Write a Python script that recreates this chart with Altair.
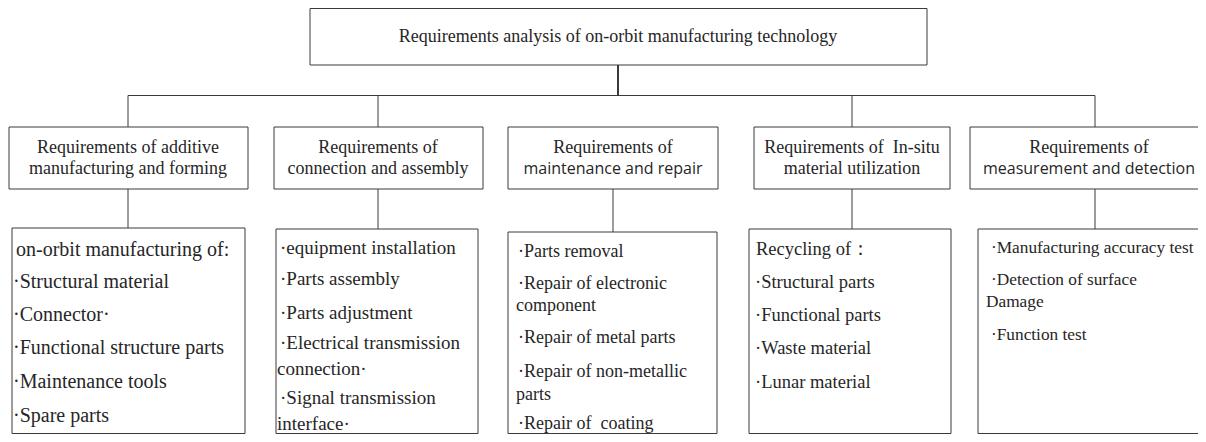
import altair as alt
import pandas as pd

# ---------------- content ----------------
ROOT = "Requirements analysis of on-orbit manufacturing technology"
BRANCH_LINE1 = ["Requirements of additive", "Requirements of", "Requirements of",
                "Requirements of\u00a0 In-situ", "Requirements of"]
BRANCH_LINE2 = ["manufacturing and forming", "connection and assembly",
                "maintenance and repair", "material utilization",
                "measurement and detection"]
SANS_LINES = ["maintenance and repair", "measurement and detection"]
ITEMS_1 = ["on-orbit manufacturing of:", "·Structural material", "·Connector·",
           "·Functional structure parts", "·Maintenance tools", "·Spare parts"]
ITEMS_2 = ["·equipment installation", "·Parts assembly", "·Parts adjustment",
           "·Electrical transmission", "connection·", "·Signal transmission", "interface·"]
ITEMS_3 = ["·Parts removal", "·Repair of electronic", "component", "·Repair of metal parts",
           "·Repair of non-metallic", "parts", "·Repair of\u00a0 coating"]
ITEMS_4 = ["Recycling of：", "·Structural parts", "·Functional parts",
           "·Waste material", "·Lunar material"]
ITEMS_5 = ["·Manufacturing accuracy test", "·Detection of surface", "Damage", "·Function test"]
ITEMS = [ITEMS_1, ITEMS_2, ITEMS_3, ITEMS_4, ITEMS_5]

# ---------------- layout (screen pixel coordinates) ----------------
W, H = 1190, 426
XMIN, XMAX, YMIN, YMAX = 8, 8 + W, 8, 8 + H

ROOT_BOX = (310, 927, 8.5, 65)
ROOT_Y = 37
TRUNK_X = 618
BRANCH_Y = 95.5
BOX_L = [9, 274, 508, 754, 970]
BOX_R = [248, 483, 718, 950, 1220]
BOX_T, BOX_B = 127, 189
CONN_X = [128, 378, 613, 852, 1095]
TITLE_X = [128, 378, 613, 852, 1089]
HAS_TOP = [True, True, False, True, True]
TITLE_Y = [148, 169]
LOW_L = [12, 276, 508, 749, 978]
LOW_R = [245, 478, 717, 951, 1230]
LOW_T = [228, 229, 232, 229, 229]
LOW_B = 433.5
DOT_X = [13, 280, 518, 755, 991]
PLAIN_X = [16, 277, 516, 756, 986]
ITEM_SIZE = [20, 19, 18, 18.5, 17.3]
SANS_SIZE = [16, 16]
ITEM_Y = [
    [250, 282, 315, 348, 382, 416],
    [248, 279, 313, 343, 369, 398, 424],
    [252, 284, 306, 338, 372, 395, 424],
    [249, 282, 315, 348, 382],
    [248, 280, 302, 335],
]

# ---------------- tables ----------------
boxes = [dict(x=ROOT_BOX[0], x2=ROOT_BOX[1], y=ROOT_BOX[2], y2=ROOT_BOX[3])]
for i in range(5):
    boxes.append(dict(x=BOX_L[i], x2=BOX_R[i], y=BOX_T, y2=BOX_B))
    boxes.append(dict(x=LOW_L[i], x2=LOW_R[i], y=LOW_T[i], y2=LOW_B))
boxes = pd.DataFrame(boxes)

rules = [dict(x=TRUNK_X, x2=TRUNK_X, y=ROOT_BOX[3], y2=BRANCH_Y, w=2),
         dict(x=CONN_X[0], x2=CONN_X[-1], y=BRANCH_Y, y2=BRANCH_Y, w=1.2)]
for i in range(5):
    if HAS_TOP[i]:
        rules.append(dict(x=CONN_X[i], x2=CONN_X[i], y=BRANCH_Y, y2=BOX_T, w=1))
    rules.append(dict(x=CONN_X[i], x2=CONN_X[i], y=BOX_B, y2=LOW_T[i], w=1))
rules = pd.DataFrame(rules)

center_serif = [dict(x=TRUNK_X, y=ROOT_Y, t=ROOT)]
center_sans = []
for i in range(5):
    cx = TITLE_X[i]
    center_serif.append(dict(x=cx, y=TITLE_Y[0], t=BRANCH_LINE1[i]))
    if BRANCH_LINE2[i] in SANS_LINES:
        center_sans.append(dict(x=cx, y=TITLE_Y[1], t=BRANCH_LINE2[i],
                                s=SANS_SIZE[SANS_LINES.index(BRANCH_LINE2[i])]))
    else:
        center_serif.append(dict(x=cx, y=TITLE_Y[1], t=BRANCH_LINE2[i]))
center_serif = pd.DataFrame(center_serif)
center_sans = pd.DataFrame(center_sans)

items = []
for i, lst in enumerate(ITEMS):
    for j, t in enumerate(lst):
        x = DOT_X[i] if t.startswith("·") else PLAIN_X[i]
        items.append(dict(x=x, y=ITEM_Y[i][j], t=t, s=ITEM_SIZE[i]))
items = pd.DataFrame(items)

xs = alt.Scale(domain=[XMIN, XMAX], zero=False, nice=False)
ys = alt.Scale(domain=[YMIN, YMAX], zero=False, nice=False, reverse=True)
X = lambda f="x": alt.X(f"{f}:Q", scale=xs, axis=None)
Y = lambda f="y": alt.Y(f"{f}:Q", scale=ys, axis=None)

INK = "#262626"
SERIF = "Liberation Serif"

box_layer = alt.Chart(boxes).mark_rect(
    fillOpacity=0, stroke="#3a3a3a", strokeWidth=1, clip=True
).encode(x=X(), x2="x2:Q", y=Y(), y2="y2:Q")

rule_layer = alt.Chart(rules).mark_rule(color="#3a3a3a", clip=True).encode(
    x=X(), x2="x2:Q", y=Y(), y2="y2:Q",
    strokeWidth=alt.StrokeWidth("w:Q", scale=None, legend=None),
)

serif_c = alt.Chart(center_serif).mark_text(
    font=SERIF, fontSize=18, color=INK, align="center", baseline="middle"
).encode(x=X(), y=Y(), text="t:N")

sans_c = alt.Chart(center_sans).mark_text(
    font="Open Sans", color=INK, align="center", baseline="middle"
).encode(x=X(), y=Y(), text="t:N",
         size=alt.Size("s:Q", scale=None, legend=None))

item_layer = alt.Chart(items).mark_text(
    font=SERIF, color=INK, align="left", baseline="middle", clip=True
).encode(x=X(), y=Y(), text="t:N",
         size=alt.Size("s:Q", scale=None, legend=None))

chart = alt.layer(box_layer, rule_layer, serif_c, sans_c, item_layer).properties(
    width=W, height=H, autosize=alt.AutoSizeParams(type="none"), padding=0,
    background="white",
).configure_view(strokeWidth=0)

chart.save("out.html", embed_options={"renderer": "svg", "actions": False})
